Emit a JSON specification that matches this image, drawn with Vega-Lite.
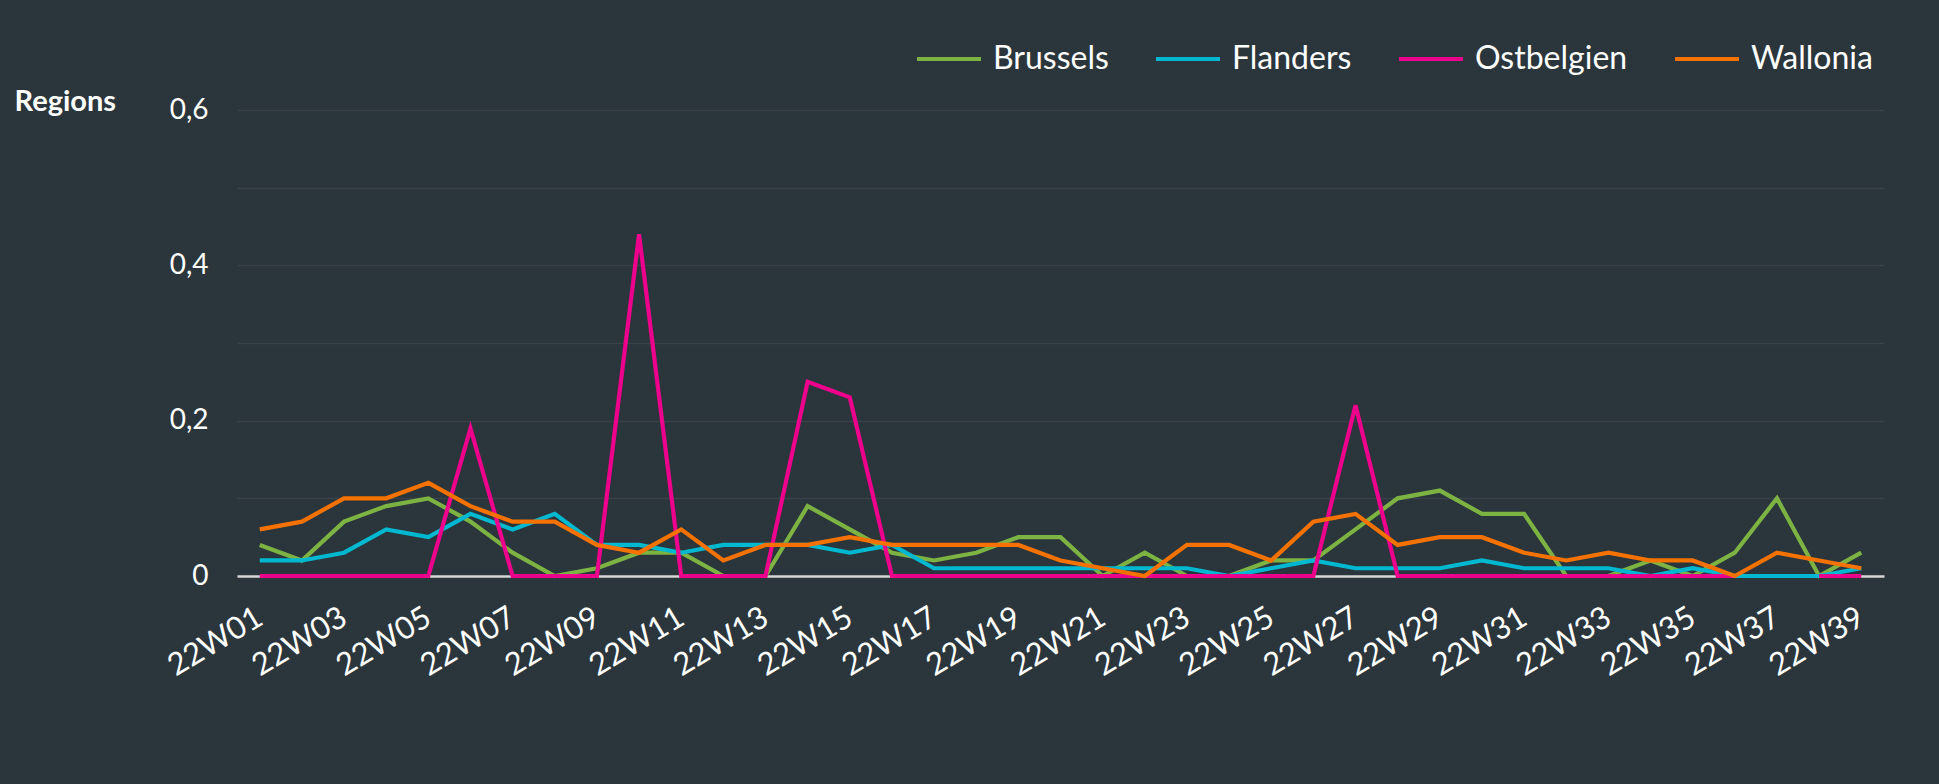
{
  "$schema": "https://vega.github.io/schema/vega-lite/v6.json",
  "width": 1647,
  "height": 466,
  "autosize": {"type": "none"},
  "padding": {"left": 237, "top": 110, "right": 55, "bottom": 208},
  "background": "#2b353c",
  "config": {"view": {"stroke": null}, "font": "Lato"},
  "data": {"values": [
    {"week": "22W01", "Brussels": 0.04, "Flanders": 0.02, "Ostbelgien": 0, "Wallonia": 0.06},
    {"week": "22W02", "Brussels": 0.02, "Flanders": 0.02, "Ostbelgien": 0, "Wallonia": 0.07},
    {"week": "22W03", "Brussels": 0.07, "Flanders": 0.03, "Ostbelgien": 0, "Wallonia": 0.10},
    {"week": "22W04", "Brussels": 0.09, "Flanders": 0.06, "Ostbelgien": 0, "Wallonia": 0.10},
    {"week": "22W05", "Brussels": 0.10, "Flanders": 0.05, "Ostbelgien": 0, "Wallonia": 0.12},
    {"week": "22W06", "Brussels": 0.07, "Flanders": 0.08, "Ostbelgien": 0.19, "Wallonia": 0.09},
    {"week": "22W07", "Brussels": 0.03, "Flanders": 0.06, "Ostbelgien": 0, "Wallonia": 0.07},
    {"week": "22W08", "Brussels": 0.00, "Flanders": 0.08, "Ostbelgien": 0, "Wallonia": 0.07},
    {"week": "22W09", "Brussels": 0.01, "Flanders": 0.04, "Ostbelgien": 0, "Wallonia": 0.04},
    {"week": "22W10", "Brussels": 0.03, "Flanders": 0.04, "Ostbelgien": 0.44, "Wallonia": 0.03},
    {"week": "22W11", "Brussels": 0.03, "Flanders": 0.03, "Ostbelgien": 0, "Wallonia": 0.06},
    {"week": "22W12", "Brussels": 0.00, "Flanders": 0.04, "Ostbelgien": 0, "Wallonia": 0.02},
    {"week": "22W13", "Brussels": 0.00, "Flanders": 0.04, "Ostbelgien": 0, "Wallonia": 0.04},
    {"week": "22W14", "Brussels": 0.09, "Flanders": 0.04, "Ostbelgien": 0.25, "Wallonia": 0.04},
    {"week": "22W15", "Brussels": 0.06, "Flanders": 0.03, "Ostbelgien": 0.23, "Wallonia": 0.05},
    {"week": "22W16", "Brussels": 0.03, "Flanders": 0.04, "Ostbelgien": 0, "Wallonia": 0.04},
    {"week": "22W17", "Brussels": 0.02, "Flanders": 0.01, "Ostbelgien": 0, "Wallonia": 0.04},
    {"week": "22W18", "Brussels": 0.03, "Flanders": 0.01, "Ostbelgien": 0, "Wallonia": 0.04},
    {"week": "22W19", "Brussels": 0.05, "Flanders": 0.01, "Ostbelgien": 0, "Wallonia": 0.04},
    {"week": "22W20", "Brussels": 0.05, "Flanders": 0.01, "Ostbelgien": 0, "Wallonia": 0.02},
    {"week": "22W21", "Brussels": 0.00, "Flanders": 0.01, "Ostbelgien": 0, "Wallonia": 0.01},
    {"week": "22W22", "Brussels": 0.03, "Flanders": 0.01, "Ostbelgien": 0, "Wallonia": 0.00},
    {"week": "22W23", "Brussels": 0.00, "Flanders": 0.01, "Ostbelgien": 0, "Wallonia": 0.04},
    {"week": "22W24", "Brussels": 0.00, "Flanders": 0.00, "Ostbelgien": 0, "Wallonia": 0.04},
    {"week": "22W25", "Brussels": 0.02, "Flanders": 0.01, "Ostbelgien": 0, "Wallonia": 0.02},
    {"week": "22W26", "Brussels": 0.02, "Flanders": 0.02, "Ostbelgien": 0, "Wallonia": 0.07},
    {"week": "22W27", "Brussels": 0.06, "Flanders": 0.01, "Ostbelgien": 0.22, "Wallonia": 0.08},
    {"week": "22W28", "Brussels": 0.10, "Flanders": 0.01, "Ostbelgien": 0, "Wallonia": 0.04},
    {"week": "22W29", "Brussels": 0.11, "Flanders": 0.01, "Ostbelgien": 0, "Wallonia": 0.05},
    {"week": "22W30", "Brussels": 0.08, "Flanders": 0.02, "Ostbelgien": 0, "Wallonia": 0.05},
    {"week": "22W31", "Brussels": 0.08, "Flanders": 0.01, "Ostbelgien": 0, "Wallonia": 0.03},
    {"week": "22W32", "Brussels": 0.00, "Flanders": 0.01, "Ostbelgien": 0, "Wallonia": 0.02},
    {"week": "22W33", "Brussels": 0.00, "Flanders": 0.01, "Ostbelgien": 0, "Wallonia": 0.03},
    {"week": "22W34", "Brussels": 0.02, "Flanders": 0.00, "Ostbelgien": 0, "Wallonia": 0.02},
    {"week": "22W35", "Brussels": 0.00, "Flanders": 0.01, "Ostbelgien": 0, "Wallonia": 0.02},
    {"week": "22W36", "Brussels": 0.03, "Flanders": 0.00, "Ostbelgien": 0, "Wallonia": 0.00},
    {"week": "22W37", "Brussels": 0.10, "Flanders": 0.00, "Ostbelgien": null, "Wallonia": 0.03},
    {"week": "22W38", "Brussels": 0.00, "Flanders": 0.00, "Ostbelgien": 0, "Wallonia": 0.02},
    {"week": "22W39", "Brussels": 0.03, "Flanders": 0.01, "Ostbelgien": 0, "Wallonia": 0.01}
  ]},
  "transform": [{"fold": ["Brussels", "Flanders", "Ostbelgien", "Wallonia"], "as": ["region", "value"]}],
  "mark": {"type": "line", "strokeWidth": 4.2, "invalid": "break-paths-show-domains"},
  "encoding": {
    "x": {
      "field": "week", "type": "ordinal",
      "scale": {"type": "point", "padding": 0.54},
      "axis": {
        "values": ["22W01","22W03","22W05","22W07","22W09","22W11","22W13","22W15","22W17","22W19","22W21","22W23","22W25","22W27","22W29","22W31","22W33","22W35","22W37","22W39"],
        "title": null, "grid": false, "domain": true, "domainColor": "#d6d6d6", "domainWidth": 2.5,
        "ticks": false, "tickSize": 0, "labelAngle": -31, "labelAlign": "right", "labelBaseline": "middle",
        "labelPadding": 39, "labelOffset": 0, "labelFont": "Lato", "labelFontSize": 31, "labelColor": "#ffffff"
      }
    },
    "y": {
      "field": "value", "type": "quantitative",
      "scale": {"domain": [0, 0.6], "nice": false},
      "axis": {
        "values": [0, 0.1, 0.2, 0.3, 0.4, 0.5, 0.6],
        "labelExpr": "datum.value == 0 ? '0' : (round(datum.value * 10) % 2 == 0 ? replace(format(datum.value, '.1f'), '.', ',') : '')",
        "grid": true, "gridColor": "#3a4249", "gridWidth": 1.5, "domain": false, "ticks": false, "tickSize": 0,
        "labelPadding": 29, "labelFont": "Lato", "labelFontSize": 28, "labelColor": "#ffffff",
        "title": "Regions", "titleAngle": 0, "titleX": -223, "titleY": 0, "titleAlign": "left", "titleBaseline": "alphabetic",
        "titleFont": "Lato", "titleFontSize": 29, "titleFontWeight": "bold", "titleColor": "#ffffff"
      }
    },
    "color": {
      "field": "region", "type": "nominal",
      "scale": {"domain": ["Brussels", "Flanders", "Ostbelgien", "Wallonia"], "range": ["#7cb342", "#00b8d0", "#ec008c", "#f57200"]},
      "legend": {
        "orient": "none", "legendX": 678, "legendY": -85, "direction": "horizontal", "title": null,
        "symbolType": "stroke", "symbolSize": 4096, "symbolStrokeWidth": 4,
        "labelFont": "Lato", "labelFontSize": 32, "labelColor": "#ffffff", "labelOffset": 10,
        "columnPadding": 39, "labelLimit": 400
      }
    }
  }
}
